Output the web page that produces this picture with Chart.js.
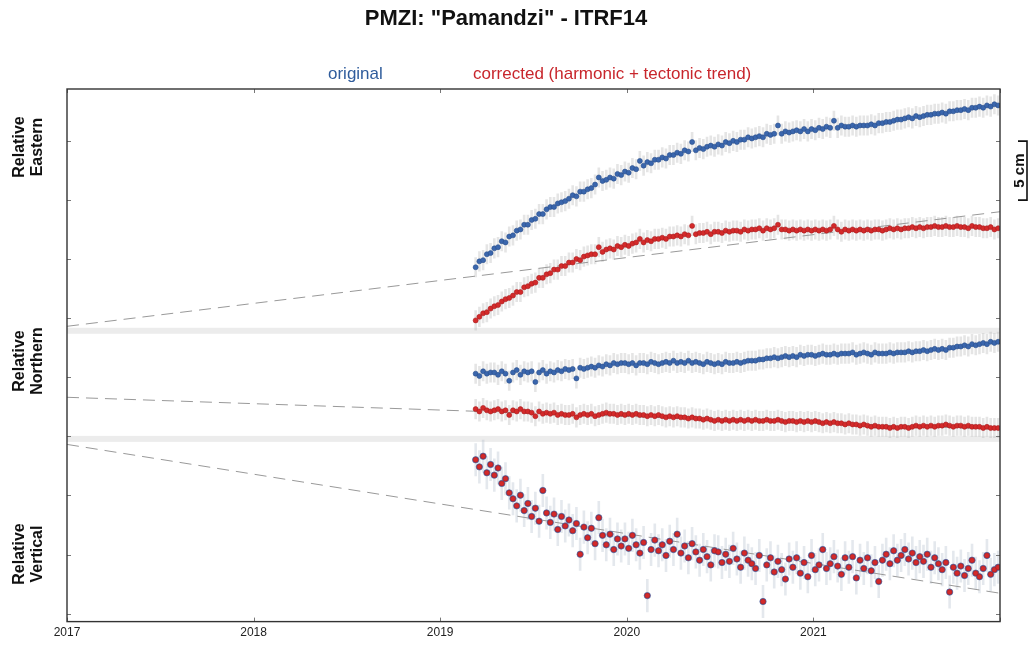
<!DOCTYPE html>
<html>
<head>
<meta charset="utf-8">
<title>PMZI Pamandzi ITRF14</title>
<script src="https://cdn.jsdelivr.net/npm/chart.js@4.4.1/dist/chart.umd.min.js"></script>
<style>
html,body{margin:0;padding:0;background:#fff;}
#wrap{width:1033px;height:648px;}
</style>
</head>
<body>
<div id="wrap"><canvas id="gpsChart" width="1033" height="648"></canvas></div>
<script>
// sample epochs, decimal years
var epochs = [
2019.19,2019.21,2019.23,2019.25,2019.27,2019.29,2019.31,2019.33,2019.35,2019.37,
2019.39,2019.41,2019.43,2019.45,2019.47,2019.49,2019.51,2019.53,2019.55,2019.57,
2019.59,2019.61,2019.63,2019.65,2019.67,2019.69,2019.71,2019.73,2019.75,2019.77,
2019.79,2019.81,2019.83,2019.85,2019.87,2019.89,2019.91,2019.93,2019.95,2019.97,
2019.99,2020.01,2020.03,2020.05,2020.07,2020.09,2020.11,2020.13,2020.15,2020.17,
2020.19,2020.21,2020.23,2020.25,2020.27,2020.29,2020.31,2020.33,2020.35,2020.37,
2020.39,2020.41,2020.43,2020.45,2020.47,2020.49,2020.51,2020.53,2020.55,2020.57,
2020.59,2020.61,2020.63,2020.65,2020.67,2020.69,2020.71,2020.73,2020.75,2020.77,
2020.79,2020.81,2020.83,2020.85,2020.87,2020.89,2020.91,2020.93,2020.95,2020.97,
2020.99,2021.01,2021.03,2021.05,2021.07,2021.09,2021.11,2021.13,2021.15,2021.17,
2021.19,2021.21,2021.23,2021.25,2021.27,2021.29,2021.31,2021.33,2021.35,2021.37,
2021.39,2021.41,2021.43,2021.45,2021.47,2021.49,2021.51,2021.53,2021.55,2021.57,
2021.59,2021.61,2021.63,2021.65,2021.67,2021.69,2021.71,2021.73,2021.75,2021.77,
2021.79,2021.81,2021.83,2021.85,2021.87,2021.89,2021.91,2021.93,2021.95,2021.97,
2021.99];

// displacements in cm (relative to the 2017 trend value of each component)
var eastOriginal = [
5.0,5.5,5.6,6.1,6.2,6.6,6.7,7.2,7.1,7.6,
7.7,8.1,8.2,8.6,8.6,9.0,9.1,9.5,9.5,9.9,
10.1,10.1,10.4,10.5,10.6,10.8,11.1,11.0,11.4,11.4,
11.6,11.7,12.0,12.6,12.3,12.4,12.6,12.5,12.9,12.8,
13.1,13.0,13.4,13.3,14.0,13.6,13.9,13.8,14.1,14.1,
14.3,14.2,14.5,14.5,14.7,14.6,14.9,14.8,15.6,14.9,
15.1,15.0,15.2,15.3,15.2,15.4,15.3,15.6,15.5,15.7,
15.6,15.8,15.8,16.0,15.9,16.0,16.1,16.0,16.3,16.2,
16.3,17.0,16.3,16.5,16.4,16.5,16.6,16.5,16.7,16.5,
16.7,16.6,16.8,16.7,16.9,16.8,17.4,16.8,17.0,16.9,
16.9,17.0,16.9,17.0,17.0,17.0,17.1,17.0,17.2,17.2,
17.3,17.3,17.4,17.5,17.5,17.6,17.7,17.6,17.8,17.7,
17.8,17.9,17.9,18.0,18.0,18.1,18.0,18.2,18.2,18.3,
18.3,18.4,18.3,18.5,18.5,18.6,18.5,18.7,18.6,18.8,
18.7];
var eastCorrected = [
0.5,0.8,1.1,1.2,1.5,1.7,1.8,2.1,2.3,2.4,
2.6,2.9,2.9,3.3,3.4,3.6,3.7,4.1,4.1,4.4,
4.5,4.8,4.8,5.1,5.1,5.4,5.4,5.7,5.6,5.9,
6.0,6.1,6.1,6.7,6.3,6.5,6.6,6.5,6.8,6.7,
6.9,6.8,7.0,7.1,7.4,7.1,7.3,7.2,7.4,7.4,
7.5,7.4,7.6,7.6,7.7,7.6,7.8,7.7,8.5,7.8,
7.9,7.9,8.0,7.8,8.0,8.0,7.9,8.1,8.0,8.1,
8.1,8.0,8.2,8.1,8.2,8.2,8.3,8.1,8.3,8.2,
8.3,8.6,8.2,8.2,8.1,8.2,8.1,8.2,8.1,8.2,
8.1,8.2,8.1,8.2,8.1,8.2,8.5,8.2,8.0,8.2,
8.1,8.2,8.1,8.2,8.1,8.2,8.1,8.2,8.2,8.1,
8.2,8.3,8.2,8.3,8.2,8.3,8.3,8.4,8.3,8.4,
8.3,8.4,8.4,8.5,8.4,8.4,8.5,8.4,8.4,8.5,
8.4,8.4,8.3,8.5,8.4,8.4,8.3,8.3,8.4,8.2,
8.3];
var northOriginal = [
2.0,1.8,2.2,2.0,2.1,2.1,1.9,2.2,2.0,1.4,
2.1,2.3,1.9,2.2,2.1,2.2,1.3,2.1,2.3,2.0,
2.2,2.1,2.3,2.2,2.4,2.3,2.4,1.6,2.5,2.4,
2.5,2.6,2.5,2.7,2.6,2.8,2.7,2.9,2.8,2.9,
2.9,2.8,2.9,2.7,2.9,2.9,2.8,3.0,2.9,2.8,
2.9,3.0,2.9,3.1,2.9,3.0,2.9,3.1,2.9,3.0,
2.9,2.8,3.0,2.9,2.8,2.9,2.8,3.0,2.9,2.9,
3.0,2.9,3.0,3.1,3.1,3.1,3.2,3.2,3.3,3.3,
3.4,3.3,3.4,3.5,3.4,3.5,3.4,3.6,3.5,3.6,
3.6,3.5,3.6,3.7,3.6,3.6,3.7,3.6,3.7,3.7,
3.7,3.8,3.6,3.7,3.8,3.7,3.6,3.8,3.7,3.7,
3.7,3.8,3.7,3.8,3.8,3.8,3.9,3.8,3.9,3.9,
4.0,3.9,4.0,4.1,4.0,4.1,4.0,4.2,4.2,4.3,
4.3,4.4,4.3,4.5,4.4,4.5,4.6,4.5,4.7,4.6,
4.7];
var northCorrected = [
-1.0,-1.2,-0.9,-1.1,-1.2,-1.1,-1.0,-1.2,-1.1,-1.5,
-1.1,-1.2,-1.0,-1.2,-1.2,-1.3,-1.6,-1.2,-1.4,-1.3,
-1.4,-1.3,-1.5,-1.4,-1.5,-1.5,-1.4,-1.7,-1.5,-1.4,
-1.5,-1.4,-1.6,-1.5,-1.4,-1.3,-1.4,-1.4,-1.5,-1.4,
-1.5,-1.4,-1.5,-1.4,-1.5,-1.5,-1.6,-1.5,-1.6,-1.5,
-1.6,-1.7,-1.6,-1.7,-1.6,-1.7,-1.7,-1.8,-1.7,-1.8,
-1.8,-1.9,-1.8,-1.9,-2.0,-1.9,-2.0,-1.9,-2.0,-1.9,
-2.0,-1.9,-2.0,-1.9,-2.0,-1.9,-2.0,-2.0,-1.9,-2.0,
-2.0,-1.9,-2.0,-2.1,-2.0,-2.0,-2.1,-2.0,-2.1,-2.0,
-2.1,-2.0,-2.1,-2.2,-2.1,-2.2,-2.1,-2.2,-2.2,-2.3,
-2.2,-2.3,-2.3,-2.4,-2.3,-2.4,-2.5,-2.4,-2.5,-2.5,
-2.5,-2.6,-2.5,-2.6,-2.5,-2.5,-2.6,-2.5,-2.4,-2.5,
-2.4,-2.5,-2.4,-2.5,-2.4,-2.4,-2.3,-2.4,-2.5,-2.4,
-2.4,-2.5,-2.4,-2.5,-2.5,-2.5,-2.6,-2.5,-2.6,-2.6,
-2.6];
// vertical: original and corrected plot on top of each other
var vertical = [
-1.3,-1.9,-1.0,-2.4,-1.7,-2.6,-2.0,-3.3,-2.9,-4.1,
-4.6,-5.2,-4.3,-5.6,-5.0,-6.1,-5.4,-6.5,-3.9,-5.8,
-6.6,-5.9,-7.2,-6.1,-6.9,-6.4,-7.3,-6.7,-9.3,-7.0,
-7.9,-7.1,-8.4,-6.2,-7.7,-8.5,-7.6,-8.9,-8.0,-8.6,
-8.0,-8.8,-7.7,-8.5,-9.2,-8.3,-12.8,-8.9,-8.1,-9.0,
-8.5,-9.4,-8.2,-8.9,-7.6,-9.2,-8.6,-9.6,-8.4,-9.1,
-9.8,-8.9,-9.5,-10.2,-9.0,-9.1,-10.0,-9.3,-9.9,-8.8,
-9.7,-10.4,-9.2,-9.8,-10.1,-10.5,-9.4,-13.3,-10.2,-9.6,
-10.8,-9.9,-10.6,-11.4,-9.7,-10.4,-9.6,-10.9,-10.0,-11.2,
-9.4,-10.6,-10.2,-8.9,-10.5,-10.1,-9.5,-10.3,-11.0,-9.6,
-10.4,-9.5,-11.3,-9.8,-10.5,-9.6,-10.7,-10.0,-11.6,-9.8,
-9.3,-10.1,-9.0,-9.8,-9.4,-8.9,-9.7,-9.2,-10.0,-9.5,
-9.9,-9.3,-10.4,-9.6,-10.1,-10.6,-10.0,-12.5,-10.4,-10.9,
-10.3,-11.1,-10.5,-9.8,-10.9,-11.2,-10.5,-9.4,-11.0,-10.6,
-10.4];

// tectonic trends (cm)
var trendEpochs = [2017, 2022];
var eastTrend = [0, 9.7];
var northTrend = [0, -2.7];
var vertTrend = [0, -12.6];

// 1-sigma error bars (cm)
var eastSigma = 0.85, northSigma = 0.85, vertSigma = 1.4;

var yearTicks = [2017, 2018, 2019, 2020, 2021, 2022];

// panel layout on the shared cm axis
var base = {east: 24.32, north: 18.31, vert: 14.32};
var separators = [23.94, 14.79];

var blue = '#3a66ad', blueEdge = '#2a4f8c';
var red = '#d42a2a', redEdge = '#a81c20';

function pts(vals, off){
	var out = [];
	for(var i in vals){ out.push({x: epochs[i], y: off + vals[i]}); }
	return out;
}
function trendPts(vals, off){
	return vals.map(function(v, i){ return {x: trendEpochs[i], y: off + v}; });
}
function dots(label, vals, off, sigma, bg, edge, r, ord){
	return {type:'scatter', label:label, data:pts(vals, off), sigma:sigma,
		backgroundColor:bg, borderColor:edge, borderWidth:0.6,
		pointRadius:r, pointHoverRadius:r, order:ord};
}
function trend(label, vals, off){
	return {type:'line', label:label, data:trendPts(vals, off), borderColor:'#999',
		borderWidth:1, borderDash:[12,7], pointRadius:0, fill:false, order:9};
}

var decor = {
	id:'decor',
	beforeDatasetsDraw:function(chart){
		var ctx = chart.ctx, a = chart.chartArea, xs = chart.scales.x, ys = chart.scales.y;
		ctx.save();
		ctx.fillStyle = '#ececec';
		separators.forEach(function(s){
			var y = ys.getPixelForValue(s);
			ctx.fillRect(a.left, y - 3, a.right - a.left, 6);
		});
		ctx.beginPath();
		ctx.rect(a.left, a.top, a.right - a.left, a.bottom - a.top);
		ctx.clip();
		chart.data.datasets.forEach(function(ds){
			if(!ds.sigma) return;
			ctx.strokeStyle = ds.sigma > 1 ? 'rgba(165,178,195,0.3)' : 'rgba(175,175,175,0.32)';
			ctx.lineWidth = 2.6;
			ds.data.forEach(function(p){
				var x = xs.getPixelForValue(p.x);
				ctx.beginPath();
				ctx.moveTo(x, ys.getPixelForValue(p.y + ds.sigma));
				ctx.lineTo(x, ys.getPixelForValue(p.y - ds.sigma));
				ctx.stroke();
			});
		});
		ctx.restore();
	},
	afterDatasetsDraw:function(chart){
		var ctx = chart.ctx, a = chart.chartArea, xs = chart.scales.x, ys = chart.scales.y;
		ctx.save();
		ctx.strokeStyle = '#777';
		ctx.lineWidth = 1;
		for(var v = 0; v <= 40; v += 5){
			var y = Math.round(ys.getPixelForValue(v)) + 0.5;
			ctx.beginPath();
			ctx.moveTo(a.left, y); ctx.lineTo(a.left + 4, y);
			ctx.moveTo(a.right, y); ctx.lineTo(a.right - 4, y);
			ctx.stroke();
		}
		yearTicks.forEach(function(t){
			var x = Math.round(xs.getPixelForValue(t)) + 0.5;
			ctx.beginPath();
			ctx.moveTo(x, a.top); ctx.lineTo(x, a.top + 4);
			ctx.moveTo(x, a.bottom); ctx.lineTo(x, a.bottom - 4);
			ctx.stroke();
		});
		ctx.strokeStyle = '#333';
		ctx.lineWidth = 1.4;
		ctx.strokeRect(a.left, a.top, a.right - a.left, a.bottom - a.top);
		ctx.restore();
	},
	afterDraw:function(chart){
		var ctx = chart.ctx, ys = chart.scales.y;
		ctx.save();
		ctx.fillStyle = '#111';
		ctx.textAlign = 'center';
		ctx.textBaseline = 'middle';
		ctx.font = 'bold 22px "Liberation Sans", Arial, sans-serif';
		ctx.fillText('PMZI: "Pamandzi" - ITRF14', 506, 19);

		ctx.font = '17px "Liberation Sans", Arial, sans-serif';
		ctx.textAlign = 'left';
		ctx.fillStyle = '#2f5c9c';
		ctx.fillText('original', 328, 74);
		ctx.fillStyle = '#c8262c';
		ctx.fillText('corrected (harmonic + tectonic trend)', 473, 74);

		ctx.fillStyle = '#111';
		ctx.textAlign = 'center';
		ctx.font = 'bold 16px "Liberation Sans", Arial, sans-serif';
		[['Eastern', 147], ['Northern', 361], ['Vertical', 554]].forEach(function(l){
			ctx.save();
			ctx.translate(20, l[1]);
			ctx.rotate(-Math.PI / 2);
			ctx.fillText('Relative', 0, 0);
			ctx.fillText(l[0], 0, 18);
			ctx.restore();
		});

		// 5 cm scale bar
		var y1 = ys.getPixelForValue(40), y2 = ys.getPixelForValue(35);
		ctx.strokeStyle = '#111';
		ctx.lineWidth = 1.6;
		ctx.beginPath();
		ctx.moveTo(1018, y1); ctx.lineTo(1027, y1); ctx.lineTo(1027, y2); ctx.lineTo(1018, y2);
		ctx.stroke();
		ctx.save();
		ctx.translate(1020, (y1 + y2) / 2);
		ctx.rotate(-Math.PI / 2);
		ctx.font = 'bold 15px "Liberation Sans", Arial, sans-serif';
		ctx.fillText('5 cm', 0, 0);
		ctx.restore();
		ctx.restore();
	}
};

var chart = new Chart(document.getElementById('gpsChart'), {
	type:'scatter',
	data:{datasets:[
		dots('E corrected', eastCorrected, base.east, eastSigma, red, redEdge, 2.5, 1),
		dots('E original', eastOriginal, base.east, eastSigma, blue, blueEdge, 2.5, 2),
		dots('N corrected', northCorrected, base.north, northSigma, red, redEdge, 2.5, 1),
		dots('N original', northOriginal, base.north, northSigma, blue, blueEdge, 2.5, 2),
		dots('U corrected', vertical, base.vert, vertSigma, red, redEdge, 2.5, 1),
		dots('U original', vertical, base.vert, 0, '#5b6fb0', '#4a5a96', 3.2, 3),
		trend('E trend', eastTrend, base.east),
		trend('N trend', northTrend, base.north),
		trend('U trend', vertTrend, base.vert)
	]},
	options:{
		responsive:false,
		animation:false,
		devicePixelRatio:1,
		layout:{padding:{left:67, right:33, top:89, bottom:4}},
		plugins:{legend:{display:false}, title:{display:false}, tooltip:{enabled:false}},
		scales:{
			x:{type:'linear', min:2017, max:2022,
				grid:{display:false, drawTicks:false}, border:{display:false},
				ticks:{stepSize:1, autoSkip:false, maxRotation:0, padding:4, color:'#222',
					font:{family:'"Liberation Sans", Arial, sans-serif', size:12},
					callback:function(v){ return v === 2022 ? '' : String(v); }}},
			y:{type:'linear', display:false, min:-0.68, max:44.41}
		}
	},
	plugins:[decor]
});
</script>
</body>
</html>
